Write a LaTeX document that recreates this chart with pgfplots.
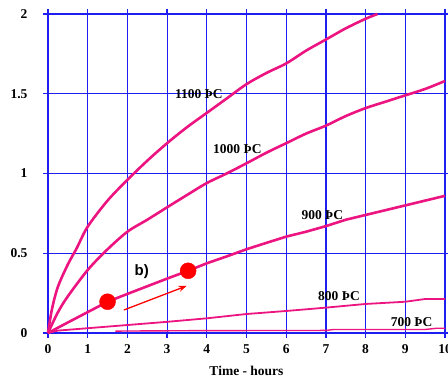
\documentclass[border=0pt]{standalone}
\usepackage{pgfplots}
\pgfplotsset{compat=1.18}
\usepackage{fontspec}
\setmainfont{Liberation Serif}
\newfontfamily\arialfont{Liberation Sans}
\usetikzlibrary{arrows.meta}
\definecolor{curve}{RGB}{236,20,128}
\definecolor{gridblue}{RGB}{30,30,240}
\begin{document}
\begin{tikzpicture}[x=1pt,y=1pt]
\begin{axis}[
  scale only axis, width=397pt, height=319pt,
  xmin=0,xmax=10,ymin=0,ymax=2,
  xtick={0,1,...,10}, ytick={0,0.5,1,1.5,2},
  yticklabels={0,0.5,1,1.5,2},
  xticklabels={0,1,2,3,4,5,6,7,8,9,10},
  grid=major,
  major grid style={draw=gridblue, line width=1.2pt},
  axis line style={draw=gridblue, line width=1.5pt},
  tick style={draw=gridblue, line width=1.3pt},
  tick align=outside, major tick length=5pt,
  /pgf/number format/assume math mode=true,
  xticklabel style={font=\fontsize{13.5}{15}\selectfont\bfseries, yshift=-3pt},
  yticklabel style={font=\fontsize{13.5}{15}\selectfont\bfseries, anchor=east, xshift=-8pt},
  yticklabel shift=4pt,
  xlabel={Time - hours},
  xlabel style={font=\fontsize{13.5}{15}\selectfont\bfseries, yshift=-6pt},
  clip=false,
]
\addplot[curve, line width=2.6pt, smooth] coordinates {(0,0) (0.1,0.15) (0.25,0.29) (0.5,0.43) (0.72,0.53) (1,0.667) (1.5,0.83) (2,0.96) (2.5,1.08) (3,1.19) (3.5,1.29) (4,1.38) (4.5,1.47) (5,1.56) (5.5,1.63) (6,1.69) (6.5,1.77) (7,1.84) (7.5,1.91) (8,1.97) (8.3,2.0)};
\addplot[curve, line width=2.6pt, smooth] coordinates {(0,0) (0.25,0.13) (0.5,0.23) (1,0.395) (1.48,0.52) (2,0.635) (2.5,0.71) (3,0.788) (3.5,0.865) (4,0.94) (4.5,1.0) (5,1.064) (5.5,1.13) (6,1.19) (6.5,1.25) (7,1.30) (7.5,1.36) (8,1.41) (8.5,1.45) (9,1.49) (9.5,1.53) (10,1.58)};
\addplot[curve, line width=2.6pt] coordinates {(0,0) (0.5,0.066) (1,0.131) (1.5,0.196) (2,0.245) (2.5,0.293) (3,0.341) (3.53,0.39) (4,0.437) (4.5,0.48) (5,0.525) (5.5,0.565) (6,0.604) (6.5,0.635) (7,0.67) (7.5,0.71) (8,0.74) (8.5,0.77) (9,0.80) (9.5,0.83) (10,0.86)};
\addplot[curve, line width=1.8pt] coordinates {(0,0) (0.25,0.015) (1,0.03) (2,0.05) (3,0.07) (4,0.092) (5,0.119) (6,0.138) (7,0.159) (8,0.182) (9,0.196) (9.5,0.213) (10,0.213)};
\addplot[curve, line width=1.4pt] coordinates {(1.7,0.012) (4,0.015) (7,0.016) (7.2,0.022) (9.5,0.022) (9.8,0.03) (10,0.03)};
\addplot[only marks, mark=*, mark size=8pt, red] coordinates {(1.5,0.196) (3.53,0.39)};
\addplot[red, line width=1.3pt, -{Stealth[length=8pt,width=6pt]}] coordinates {(1.91,0.144) (3.49,0.295)};
\begin{scope}[font=\fontsize{13.5}{15}\selectfont\bfseries]
\node at (axis cs:3.80,1.5) {1100 ÞC};
\node at (axis cs:4.77,1.15) {1000 ÞC};
\node at (axis cs:6.91,0.74) {900 ÞC};
\node at (axis cs:7.33,0.232) {800 ÞC};
\node at (axis cs:9.16,0.071) {700 ÞC};
\end{scope}
\node[font=\arialfont\fontsize{15}{17}\selectfont\bfseries] at (axis cs:2.36,0.384) {b)};
\end{axis}
\pgfresetboundingbox
\path (-48,-46) rectangle (400,333);
\end{tikzpicture}
\end{document}
